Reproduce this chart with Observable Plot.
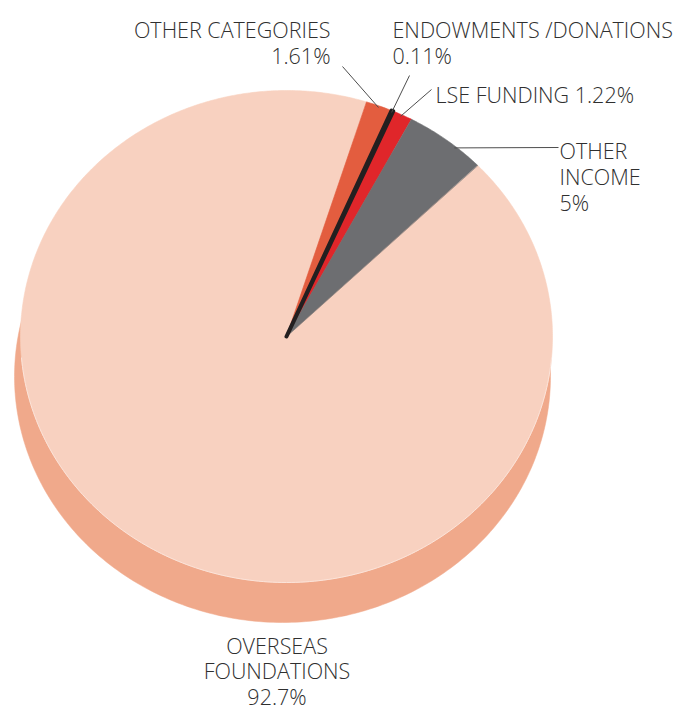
<!DOCTYPE html>
<html><head><meta charset="utf-8">
<script src="https://cdn.jsdelivr.net/npm/d3@7"></script>
<script src="https://cdn.jsdelivr.net/npm/@observablehq/plot@0.6"></script>
<style>html,body{margin:0;padding:0;background:#fff}</style>
</head><body><div id="chart"></div>
<script>
// ---- data ----
const categories = ["OTHER CATEGORIES", "ENDOWMENTS /DONATIONS", "LSE FUNDING", "OTHER INCOME", "OVERSEAS FOUNDATIONS"];
const shares = [1.61, 0.11, 1.22, 5, 92.7];
const shareLabels = ["1.61%", "0.11%", "1.22%", "5%", "92.7%"];

// ---- styles ----
const sliceColors = ["#E35D3F", "#231F20", "#E0262A", "#6D6E71", "#F8D1C0"];
const sideColor = "#F0A98B";
const textColor = "#2f2f2f";
const lineColor = "#4d4d4d";
const FONT_SIZE = 21.5;

// ---- layout ----
const W = 676, H = 711, CX = 286, CY = 336, RX = 266, RY = 246;
const START_DEG = 17.5;
const SIDE = {dx: (282 - 286) / RX, dy: (336 - 376) / RY, sx: 268 / RX};
const ux = px => (px - CX) / RX, uy = py => (CY - py) / RY;

// label layout: text lines, anchor, x, first baseline & line step (px); leader end (px), anchor fraction within slice
const labelLayout = [
  {k: 0, lines: [categories[0], shareLabels[0]], anchor: "end", x: 330, base: 37, step: 27, leader: [342, 66], t: 0.5},
  {k: 1, lines: [categories[1], shareLabels[1]], anchor: "start", x: 392, base: 37, step: 27, leader: [409, 75], t: 0.5},
  {k: 2, lines: [categories[2] + " " + shareLabels[2]], anchor: "start", x: 435, base: 102, step: 27, leader: [431, 89], t: 0.45},
  {k: 3, lines: ["OTHER", "INCOME", shareLabels[3]], anchor: "start", x: 559, base: 158, step: 26.5, leader: [558, 147], t: 0.64},
  {k: 4, lines: ["OVERSEAS", "FOUNDATIONS", shareLabels[4]], anchor: "middle", x: 276.5, base: 653, step: 26, leader: null}
];

// ---- geometry from data ----
const a0 = START_DEG * Math.PI / 180;
const arcs = d3.pie().sort(null).value(d => d).startAngle(a0).endAngle(a0 + 2 * Math.PI)(shares);

function slicePoly(a) {
  const n = Math.max(2, Math.ceil((a.endAngle - a.startAngle) / (Math.PI / 360)));
  const pts = [{x: 0, y: 0}];
  for (let j = 0; j <= n; j++) {
    const t = a.startAngle + (a.endAngle - a.startAngle) * j / n;
    pts.push({x: Math.sin(t), y: Math.cos(t)});
  }
  return pts;
}
const sidePts = d3.range(0, 361, 1).map(d => {
  const t = d * Math.PI / 180;
  return {x: SIDE.dx + SIDE.sx * Math.sin(t), y: SIDE.dy + Math.cos(t)};
});
const rimPts = d3.range(95, 266, 1).map(d => {
  const t = d * Math.PI / 180;
  return {x: Math.sin(t), y: Math.cos(t)};
});

const leaders = labelLayout.filter(d => d.leader).map(d => {
  const a = arcs[d.k];
  const ang = a.startAngle + (a.endAngle - a.startAngle) * d.t;
  return {x1: 0.993 * Math.sin(ang), y1: 0.993 * Math.cos(ang), x2: ux(d.leader[0]), y2: uy(d.leader[1])};
});

const drawOrder = [4, 0, 2, 3, 1];
const sliceMarks = drawOrder.map(i => Plot.line(slicePoly(arcs[i]), {
  x: "x", y: "y", curve: "linear-closed",
  fill: sliceColors[i], stroke: sliceColors[i],
  strokeWidth: i === 1 ? 4 : 0.6, strokeLinejoin: "round"
}));

const textMarks = labelLayout.map(d => Plot.text([{text: d.lines.join("\n"), x: ux(d.x), y: uy(d.base - 0.71 * d.step)}], {
  x: "x", y: "y", text: "text", textAnchor: d.anchor, lineAnchor: "top", lineHeight: d.step / FONT_SIZE,
  fontSize: FONT_SIZE, fontWeight: 300, fill: textColor, fontFamily: "Open Sans"
}));

const chart = Plot.plot({
  width: W, height: H,
  marginTop: 0, marginRight: 0, marginBottom: 0, marginLeft: 0,
  x: {domain: [-1, 1], range: [CX - RX, CX + RX], axis: null},
  y: {domain: [-1, 1], range: [CY + RY, CY - RY], axis: null},
  style: {fontFamily: "Open Sans", background: "#fff"},
  marks: [
    Plot.line(sidePts, {x: "x", y: "y", curve: "linear-closed", fill: sideColor, stroke: sideColor, strokeWidth: 0.5}),
    ...sliceMarks,
    Plot.line(rimPts, {x: "x", y: "y", stroke: "#FCE4DA", strokeWidth: 1}),
    Plot.link(leaders, {x1: "x1", y1: "y1", x2: "x2", y2: "y2", stroke: lineColor, strokeWidth: 1}),
    ...textMarks
  ]
});
document.getElementById("chart").appendChild(chart);
</script>
</body></html>
